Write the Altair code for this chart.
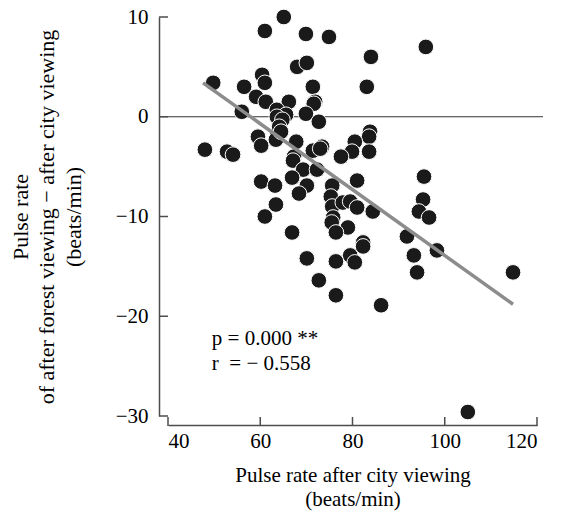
import altair as alt
import pandas as pd

# Scatter data: pulse rate after city viewing (x) vs difference forest - city (y)
pulse_city = [65.1, 61.0, 69.9, 74.9, 84.0, 95.9, 68.0, 70.1, 60.4, 61.0,
              49.8, 56.5, 71.4, 83.1, 59.1, 61.2, 66.2, 71.9, 71.6, 56.0,
              63.6, 65.6, 69.9, 63.6, 64.8, 72.7, 64.1, 83.8, 83.6, 59.5,
              60.2, 63.6, 63.4, 67.8, 71.4, 73.4, 80.5, 79.9, 83.6, 77.5,
              67.3, 67.1, 48.0, 52.8, 54.1, 69.3, 72.3, 60.2, 63.2, 66.9,
              81.0, 95.5, 75.6, 70.1, 68.4, 63.4, 61.0, 66.9, 75.3, 75.6,
              75.8, 75.5, 77.9, 79.5, 81.0, 84.4, 79.0, 76.4, 82.3, 82.3,
              79.5, 80.5, 76.4, 70.1, 72.7, 76.4, 86.2, 95.3, 94.4, 96.6,
              91.8, 98.3, 93.3, 94.0, 114.8, 105.0, 64.5, 73.0]
pulse_diff = [10.0, 8.6, 8.3, 8.0, 6.0, 7.0, 5.0, 5.4, 4.2, 3.4,
              3.4, 3.0, 3.0, 3.0, 2.0, 1.5, 1.5, 1.5, 1.3, 0.5,
              0.7, 0.2, 0.3, 0.0, -0.3, -0.5, -1.0, -1.5, -2.0, -2.0,
              -2.9, -2.0, -2.3, -2.5, -3.4, -3.0, -2.5, -3.5, -3.5, -4.0,
              -4.0, -4.4, -3.3, -3.5, -3.8, -5.3, -5.3, -6.5, -6.9, -6.1,
              -6.4, -6.0, -6.9, -6.9, -7.7, -8.8, -10.0, -11.6, -8.0, -9.0,
              -10.1, -10.6, -8.6, -8.5, -9.1, -9.5, -11.1, -11.6, -12.6, -13.0,
              -13.9, -14.6, -14.5, -14.2, -16.4, -17.9, -18.9, -8.3, -9.5, -10.1,
              -12.0, -13.4, -13.9, -15.6, -15.6, -29.6, -1.5, -3.2]

# Regression line end points
fit_x = [47.6, 114.8]
fit_y = [3.4, -18.8]

x_ticks = [40, 60, 80, 100, 120]
y_ticks = [10, 0, -10, -20, -30]

note_text = ["p = 0.000 **", "r\u00a0 = \u2212 0.558"]
note_x = [49.5, 49.5]
note_y = [-22.3, -24.8]

FONT = "Liberation Serif"

pts = pd.DataFrame({"x": pulse_city, "y": pulse_diff})
fit = pd.DataFrame({"x": fit_x, "y": fit_y})
xt = pd.DataFrame({"v": x_ticks})
yt = pd.DataFrame({"v": y_ticks})
notes = pd.DataFrame({"t": note_text, "x": note_x, "y": note_y})
zero = pd.DataFrame({"y": [0]})

xscale = alt.Scale(domain=[40, 120], nice=False, zero=False)
yscale = alt.Scale(domain=[-30, 10], nice=False, zero=False)

xaxis = alt.Axis(values=x_ticks, ticks=False, offset=9, domainColor="#4d4d4d",
                 domainWidth=1.5, labelPadding=5, labelFontSize=21,
                 title=["Pulse rate after city viewing", "(beats/min)"],
                 titlePadding=13, titleFontSize=21, titleLineHeight=24)
yaxis = alt.Axis(values=y_ticks, ticks=False, offset=9, domainColor="#4d4d4d",
                 domainWidth=1.5, labelPadding=11, labelFontSize=21,
                 title=["Pulse rate", "of after forest viewing \u2212 after city viewing", "(beats/min)"],
                 titlePadding=30, titleFontSize=22, titleLineHeight=26.5)

zero_line = alt.Chart(zero).mark_rule(color="#333333", strokeWidth=1.2).encode(
    y=alt.Y("y:Q", scale=yscale, axis=yaxis),
    x=alt.value(-9), x2=alt.value(375))

pts_layer = alt.Chart(pts).mark_circle(size=245, color="#1a1a1a", opacity=1,
                                       stroke="white", strokeWidth=1).encode(
    x=alt.X("x:Q", scale=xscale, axis=xaxis),
    y=alt.Y("y:Q", scale=yscale))

fit_layer = alt.Chart(fit).mark_line(color="#8c8c8c", strokeWidth=3.5).encode(
    x=alt.X("x:Q", scale=xscale), y=alt.Y("y:Q", scale=yscale))

xtick_layer = alt.Chart(xt).mark_rule(color="#4d4d4d", strokeWidth=1.5).encode(
    x=alt.X("v:Q", scale=xscale), y=alt.value(400), y2=alt.value(409))
ytick_layer = alt.Chart(yt).mark_rule(color="#4d4d4d", strokeWidth=1.5).encode(
    y=alt.Y("v:Q", scale=yscale), x=alt.value(-9), x2=alt.value(0))

note_layer = alt.Chart(notes).mark_text(align="left", baseline="middle", font=FONT,
                                        fontSize=21, color="black").encode(
    x=alt.X("x:Q", scale=xscale), y=alt.Y("y:Q", scale=yscale), text="t:N")

chart = alt.layer(zero_line, xtick_layer, ytick_layer, pts_layer, fit_layer, note_layer).properties(
    width=369, height=399,
    autosize=alt.AutoSizeParams(type="none"),
    padding={"left": 168, "top": 17, "right": 28, "bottom": 97},
).configure_view(stroke=None).configure_axis(
    labelFont=FONT, titleFont=FONT, labelColor="black", titleColor="black",
    titleFontWeight="normal", grid=False
)

chart.save("out.html", embed_options={"renderer": "svg", "actions": False})
